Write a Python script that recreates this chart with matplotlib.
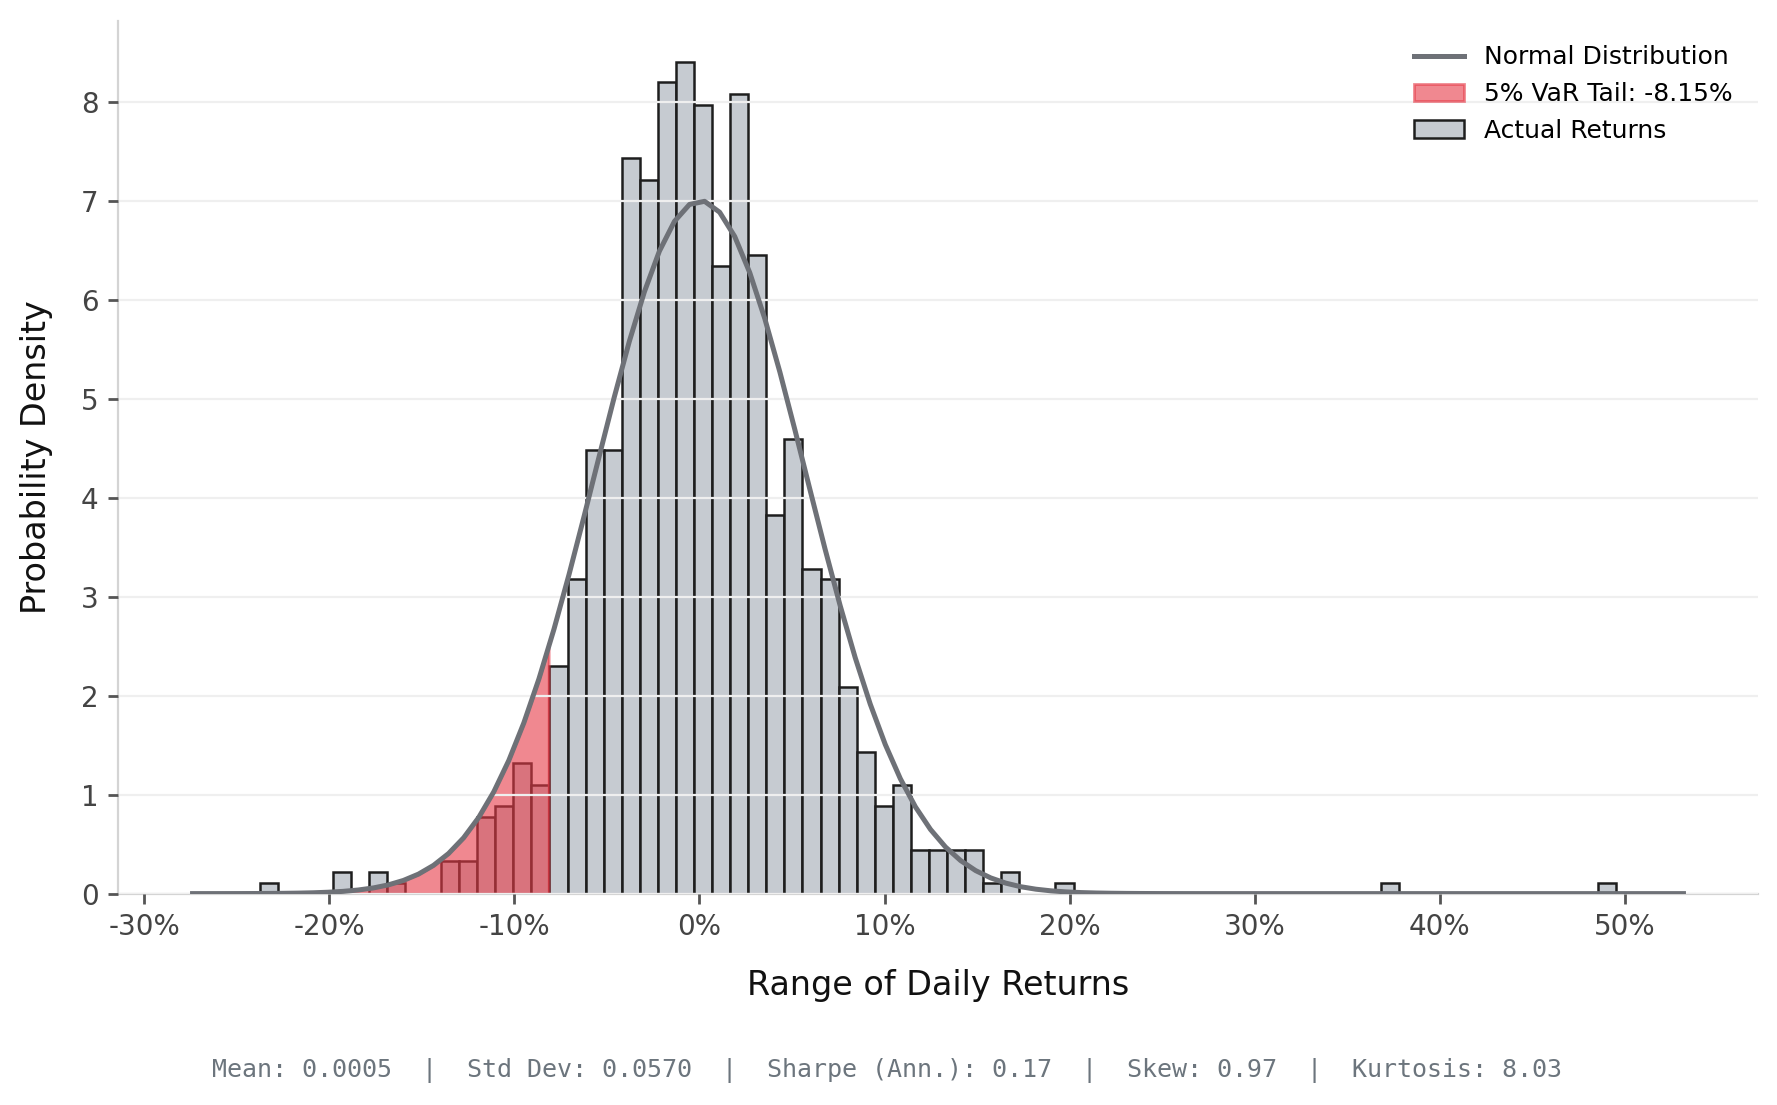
import numpy as np
import matplotlib
matplotlib.use("Agg")
import matplotlib.pyplot as plt
from matplotlib.ticker import FuncFormatter, MultipleLocator

# ---------------- data ----------------
bin_min = -0.2373
bin_max = 0.4951
n_bins = 75
density = [
    0.11, 0.00, 0.00, 0.00, 0.22, 0.00, 0.22, 0.11, 0.00, 0.00,   # 0-9
    0.33, 0.33, 0.77, 0.88, 1.32, 1.10, 2.30, 3.18, 4.48, 4.48,   # 10-19
    7.43, 7.21, 8.20, 8.40, 7.97, 6.34, 8.08, 6.45, 3.82, 4.59,   # 20-29
    3.28, 3.18, 2.09, 1.43, 0.88, 1.10, 0.44, 0.44, 0.44, 0.44,   # 30-39
    0.11, 0.22, 0.00, 0.00, 0.11, 0.00, 0.00, 0.00, 0.00, 0.00,   # 40-49
    0.00, 0.00, 0.00, 0.00, 0.00, 0.00, 0.00, 0.00, 0.00, 0.00,   # 50-59
    0.00, 0.00, 0.11, 0.00, 0.00, 0.00, 0.00, 0.00, 0.00, 0.00,   # 60-69
    0.00, 0.00, 0.00, 0.00, 0.11,                                 # 70-74
]
mean_ret = 0.0005
std_ret = 0.0570
var_5 = -0.0815
stats_labels = ["Mean: 0.0005", "Std Dev: 0.0570", "Sharpe (Ann.): 0.17",
                "Skew: 0.97", "Kurtosis: 8.03"]
x_label = "Range of Daily Returns"
y_label = "Probability Density"

# ---------------- figure ----------------
W, H, DPI = 1777, 1105, 200
fig = plt.figure(figsize=(W / DPI, H / DPI), dpi=DPI)
left, right, top, bottom = 118 / W, 1758 / W, 1 - 20.5 / H, 1 - 893.6 / H
ax = fig.add_axes([left, bottom, right - left, top - bottom])

edges = np.linspace(bin_min, bin_max, n_bins + 1)
centers = (edges[:-1] + edges[1:]) / 2
_, _, patches = ax.hist(centers, bins=edges, weights=density,
                        color="#c6cbd1", edgecolor="#1e1e1e", linewidth=0.9,
                        label="Actual Returns")
for p, h in zip(patches, density):
    if h == 0:
        p.set_visible(False)

# normal curve over the autoscaled x range
x0, x1 = ax.get_xlim()
xs = np.linspace(x0, x1, 100)
pdf = lambda x: np.exp(-0.5 * ((x - mean_ret) / std_ret) ** 2) / (std_ret * np.sqrt(2 * np.pi))
line, = ax.plot(xs, pdf(xs), color="#6e7177", linewidth=1.8,
                label="Normal Distribution", zorder=3)

x_tail = np.append(xs[xs <= var_5], var_5)
fill = ax.fill_between(x_tail, pdf(x_tail), color="#e63946", alpha=0.6,
                       label=f"5% VaR Tail: {var_5 * 100:.2f}%")

# ---------------- styling ----------------
ax.set_axisbelow(False)
ax.yaxis.grid(True, color="#efefef", linewidth=0.8)
ax.xaxis.grid(False)
for s in ["top", "right"]:
    ax.spines[s].set_visible(False)
for s in ["left", "bottom"]:
    ax.spines[s].set_color("#d4d4d4")
    ax.spines[s].set_linewidth(0.8)

ax.xaxis.set_major_locator(MultipleLocator(0.10))
ax.xaxis.set_major_formatter(FuncFormatter(lambda v, _: f"{v * 100:.0f}%"))
ax.yaxis.set_major_locator(MultipleLocator(1))
ax.tick_params(axis="both", colors="#555555", labelcolor="#444444",
               labelsize=10, width=1.0, length=3.5)

ax.set_xlabel(x_label, fontsize=12, labelpad=10, color="#111111")
ax.set_ylabel(y_label, fontsize=12, labelpad=10, color="#111111")

ax.legend(handles=[line, fill, patches[0]], loc="upper right",
          frameon=False, fontsize=9, borderaxespad=0.6)

fig.text(0.499, 0.031, "  |  ".join(stats_labels), ha="center", va="center",
         family="DejaVu Sans Mono", fontsize=9, color="#6c757d")

fig.savefig("out.png", dpi=DPI)
